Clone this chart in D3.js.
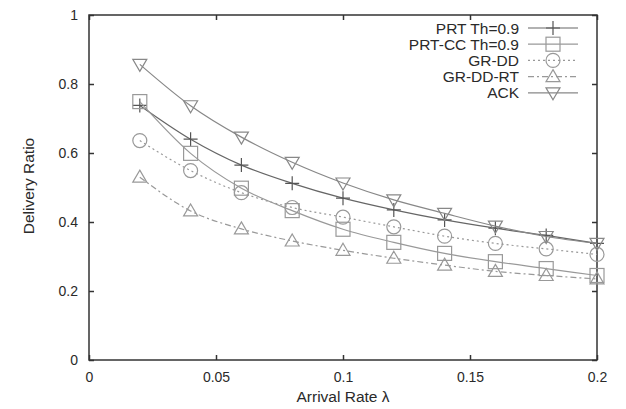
<!DOCTYPE html>
<html lang="en">
<head>
<meta charset="UTF-8" />
<title>Delivery Ratio vs Arrival Rate</title>
<style>
  body { margin: 0; background: #fff; }
  text { font-family: "Liberation Sans", Arial, sans-serif; fill: #2a2a2a; }
</style>
</head>
<body>
<svg width="626" height="409"></svg>
<script src="https://d3js.org/d3.v7.min.js"></script>
<script>
const rates = [0.02, 0.04, 0.06, 0.08, 0.1, 0.12, 0.14, 0.16, 0.18, 0.2];
const prt = [0.738, 0.64, 0.565, 0.512, 0.469, 0.435, 0.406, 0.382, 0.361, 0.338];
const prtCC = [0.749, 0.599, 0.498, 0.433, 0.379, 0.341, 0.309, 0.285, 0.265, 0.245];
const grDD = [0.636, 0.549, 0.485, 0.442, 0.414, 0.386, 0.359, 0.338, 0.322, 0.306];
const grDDRT = [0.53, 0.432, 0.38, 0.345, 0.318, 0.295, 0.275, 0.257, 0.245, 0.235];
const ack = [0.857, 0.737, 0.646, 0.573, 0.513, 0.464, 0.425, 0.388, 0.358, 0.338];
const xTicks = [0, 0.05, 0.1, 0.15, 0.2];
const yTicks = [0, 0.2, 0.4, 0.6, 0.8, 1];

const series = [
  { name: 'PRT Th=0.9', values: prt, marker: 'plus', color: '#666', dash: null },
  { name: 'PRT-CC Th=0.9', values: prtCC, marker: 'square', color: '#999', dash: null },
  { name: 'GR-DD', values: grDD, marker: 'circle', color: '#999', dash: '2,3' },
  { name: 'GR-DD-RT', values: grDDRT, marker: 'triangle', color: '#999', dash: '6,3,2,3' },
  { name: 'ACK', values: ack, marker: 'tridown', color: '#888', dash: null }
];

const svg = d3.select('svg');
const plot = { left: 89, right: 597, top: 15, bottom: 360 };

const x = d3.scaleLinear().domain([0, 0.2]).range([plot.left, plot.right]);
const y = d3.scaleLinear().domain([0, 1]).range([plot.bottom, plot.top]);

// ticks inside on all four sides
svg.append('g').attr('transform', `translate(0,${plot.bottom})`)
  .call(d3.axisBottom(x).tickValues(xTicks).tickSizeInner(-5).tickSizeOuter(0).tickPadding(12).tickFormat(d3.format('')))
  .call(g => g.select('.domain').remove());
svg.append('g').attr('transform', `translate(0,${plot.top})`)
  .call(d3.axisTop(x).tickValues(xTicks).tickSizeInner(-5).tickSizeOuter(0).tickFormat(''))
  .call(g => g.select('.domain').remove());
svg.append('g').attr('transform', `translate(${plot.left},0)`)
  .call(d3.axisLeft(y).tickValues(yTicks).tickSizeInner(-5).tickSizeOuter(0).tickPadding(11).tickFormat(d3.format('')))
  .call(g => g.select('.domain').remove());
svg.append('g').attr('transform', `translate(${plot.right},0)`)
  .call(d3.axisRight(y).tickValues(yTicks).tickSizeInner(-5).tickSizeOuter(0).tickFormat(''))
  .call(g => g.select('.domain').remove());

svg.selectAll('.tick line').attr('stroke', '#333').attr('stroke-width', 1.5);
svg.selectAll('.tick text').attr('font-size', 14).attr('fill', '#2a2a2a');

svg.append('rect')
  .attr('x', plot.left).attr('y', plot.top)
  .attr('width', plot.right - plot.left).attr('height', plot.bottom - plot.top)
  .attr('fill', 'none').attr('stroke', '#333').attr('stroke-width', 1.5);

svg.append('text').attr('x', 343).attr('y', 402).attr('text-anchor', 'middle')
  .attr('font-size', 15.5).text('Arrival Rate λ');
svg.append('text').attr('transform', 'translate(34,186) rotate(-90)').attr('text-anchor', 'middle')
  .attr('font-size', 15.5).text('Delivery Ratio');

function drawMarker(g, type, cx, cy, color) {
  const s = 7;
  if (type === 'plus') {
    g.append('path').attr('d', `M${cx - s},${cy}H${cx + s}M${cx},${cy - s}V${cy + s}`)
      .attr('stroke', '#555').attr('stroke-width', 1.2).attr('fill', 'none');
  } else if (type === 'square') {
    g.append('rect').attr('x', cx - s).attr('y', cy - s).attr('width', 2 * s).attr('height', 2 * s)
      .attr('stroke', color).attr('stroke-width', 1.2).attr('fill', 'none');
  } else if (type === 'circle') {
    g.append('circle').attr('cx', cx).attr('cy', cy).attr('r', s)
      .attr('stroke', color).attr('stroke-width', 1.2).attr('fill', 'none');
  } else if (type === 'triangle') {
    g.append('path').attr('d', `M${cx},${cy - s}L${cx + s},${cy + 5}L${cx - s},${cy + 5}Z`)
      .attr('stroke', color).attr('stroke-width', 1.2).attr('fill', 'none');
  } else if (type === 'tridown') {
    g.append('path').attr('d', `M${cx},${cy + s}L${cx + s},${cy - 5}L${cx - s},${cy - 5}Z`)
      .attr('stroke', color).attr('stroke-width', 1.2).attr('fill', 'none');
  }
}

const line = d3.line().x(d => x(d[0])).y(d => y(d[1])).curve(d3.curveMonotoneX);

series.forEach(s => {
  const pts = rates.map((r, i) => [r, s.values[i]]);
  svg.append('path').datum(pts).attr('d', line)
    .attr('fill', 'none').attr('stroke', s.color).attr('stroke-width', 1.2)
    .attr('stroke-dasharray', s.dash);
  const g = svg.append('g');
  pts.forEach(p => drawMarker(g, s.marker, x(p[0]), y(p[1]), s.color));
});

// legend
series.forEach((s, i) => {
  const ly = 28 + i * 16.2;
  svg.append('text').attr('x', 519).attr('y', ly + 5.5).attr('text-anchor', 'end')
    .attr('font-size', 15.5).text(s.name);
  svg.append('line').attr('x1', 528).attr('x2', 578).attr('y1', ly).attr('y2', ly)
    .attr('stroke', s.color).attr('stroke-width', 1.2).attr('stroke-dasharray', s.dash);
  drawMarker(svg.append('g'), s.marker, 553, ly, s.color);
});
</script>
</body>
</html>
